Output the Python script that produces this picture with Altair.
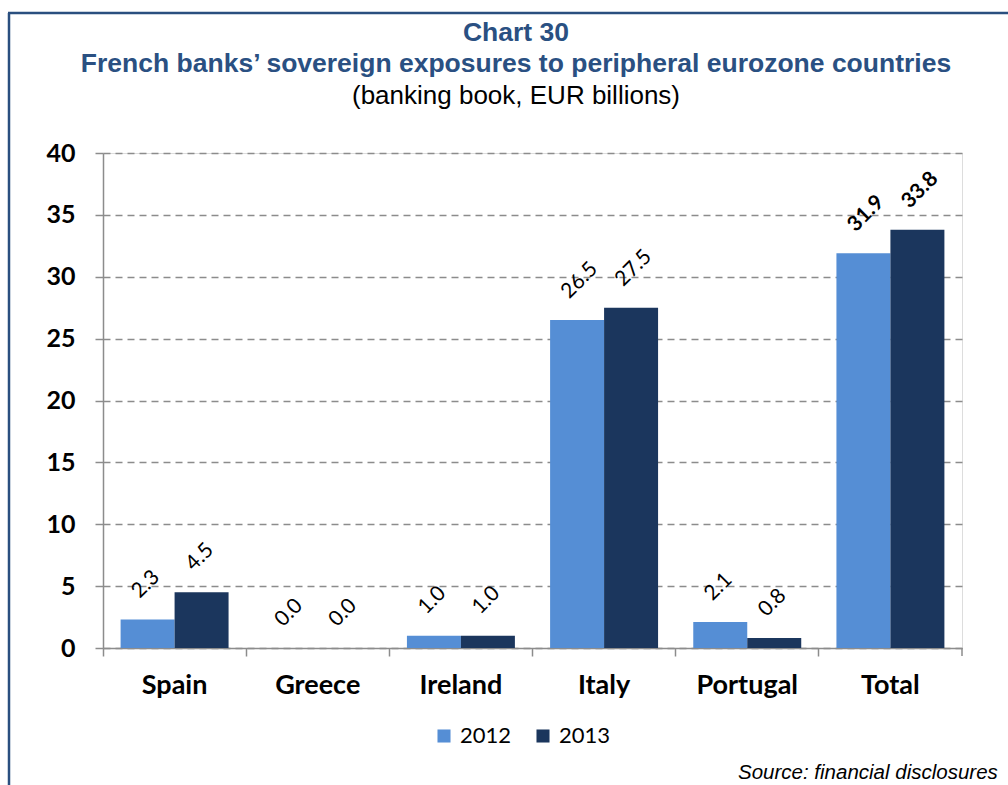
import altair as alt
import pandas as pd

countries = ["Spain", "Greece", "Ireland", "Italy", "Portugal", "Total"]
years = ["2012", "2013"]
v2012 = [2.3, 0.0, 1.0, 26.5, 2.1, 31.9]
v2013 = [4.5, 0.0, 1.0, 27.5, 0.8, 33.8]
colors = ["#558ED5", "#1B365D"]
y_ticks = [0, 5, 10, 15, 20, 25, 30, 35, 40]
title_lines = ["Chart 30", "French banks’ sovereign exposures to peripheral eurozone countries"]
subtitle_line = ["(banking book, EUR billions)"]
source_note = ["Source: financial disclosures"]

rows = []
for c, a, b in zip(countries, v2012, v2013):
    rows.append({"country": c, "year": years[0], "value": a, "label": f"{a:.1f}"})
    rows.append({"country": c, "year": years[1], "value": b, "label": f"{b:.1f}"})
df = pd.DataFrame(rows)

W, H = 859, 495
AX = "#8C8C8C"
FRAME = "#2A4F7F"
TITLE_C = "#2A5082"
TFONT = "Liberation Sans, Arial, sans-serif"

x_enc = alt.X("country:N", sort=countries, title=None,
              scale=alt.Scale(paddingInner=0, paddingOuter=0),
              axis=alt.Axis(bandPosition=0, labelAngle=0, labelFont="Lato",
                            labelFontWeight="bold", labelFontSize=27, labelColor="black",
                            labelPadding=16, tickSize=8, tickColor=AX, tickWidth=1.5,
                            domainColor=AX, domainWidth=1.5, grid=False))
xoff = alt.XOffset("year:N", sort=years,
                   scale=alt.Scale(paddingInner=0, paddingOuter=0.326))
y_enc = alt.Y("value:Q", title=None,
              scale=alt.Scale(domain=[0, 40], nice=False),
              axis=alt.Axis(values=y_ticks, labelFont="Lato", labelFontWeight="bold",
                            labelFontSize=25, labelColor="black", labelPadding=20,
                            tickSize=8, tickColor=AX, tickWidth=1.5,
                            domainColor=AX, domainWidth=1.5,
                            grid=True, gridColor=AX, gridWidth=1.5,
                            gridDash=[7, 5]))

base = alt.Chart(df)

bars = base.mark_bar().encode(
    x=x_enc, xOffset=xoff, y=y_enc,
    color=alt.Color("year:N", sort=years, title=None,
                    scale=alt.Scale(domain=years, range=colors),
                    legend=alt.Legend(orient="none", direction="horizontal",
                                      legendX=330, legendY=572,
                                      symbolType="square", symbolSize=170,
                                      symbolStrokeWidth=0,
                                      labelFont="Lato", labelFontSize=22,
                                      labelColor="black", labelOffset=5,
                                      columnPadding=20)),
)

lbl_common = dict(angle=315, align="left", baseline="middle", dx=9, dy=-26,
                  fontSize=21, font="Lato", color="black")

labels = base.transform_filter(alt.datum.country != "Total").mark_text(
    **lbl_common).encode(
    x=alt.X("country:N", sort=countries), xOffset=xoff,
    y=alt.Y("value:Q"), text="label:N")

labels_total = base.transform_filter(alt.datum.country == "Total").mark_text(
    fontWeight="bold", **lbl_common).encode(
    x=alt.X("country:N", sort=countries), xOffset=xoff,
    y=alt.Y("value:Q"), text="label:N")

one = pd.DataFrame({"k": [0]})
end_tick = alt.Chart(one).mark_rule(color=AX, strokeWidth=1.5).encode(
    x=alt.value(W), y=alt.value(H), y2=alt.value(H + 8))

frame_left = alt.Chart(one).mark_rule(color=FRAME, strokeWidth=2.5).encode(
    x=alt.value(-94), y=alt.value(-140), y2=alt.value(640))
frame_top = alt.Chart(one).mark_rule(color=FRAME, strokeWidth=2.5).encode(
    x=alt.value(-95), x2=alt.value(910), y=alt.value(-140))

title_df = pd.DataFrame({"t": title_lines})
title1 = alt.Chart(title_df.iloc[[0]]).mark_text(
    align="center", baseline="middle", font=TFONT,
    fontWeight="bold", fontSize=26.5, color=TITLE_C).encode(
    x=alt.value(413), y=alt.value(-120), text="t:N")
title2 = alt.Chart(title_df.iloc[[1]]).mark_text(
    align="center", baseline="middle", font=TFONT,
    fontWeight="bold", fontSize=26.5, color=TITLE_C).encode(
    x=alt.value(413), y=alt.value(-89), text="t:N")
subtitle = alt.Chart(pd.DataFrame({"t": subtitle_line})).mark_text(
    align="center", baseline="middle", font=TFONT,
    fontSize=26, color="black").encode(
    x=alt.value(413), y=alt.value(-57), text="t:N")

source = alt.Chart(pd.DataFrame({"t": source_note})).mark_text(
    align="left", baseline="middle", font=TFONT, fontStyle="italic",
    fontSize=20.5, color="black").encode(
    x=alt.value(635), y=alt.value(620), text="t:N")

chart = alt.layer(bars, labels, labels_total, end_tick, frame_left, frame_top,
                  title1, title2, subtitle, source).properties(
    width=W, height=H,
    autosize=alt.AutoSizeParams(type="none"),
    padding={"left": 103, "top": 153, "right": 46, "bottom": 137},
).configure_view(stroke=None).configure(background="white")

chart.save("out.html", embed_options={"renderer": "svg", "actions": False})
